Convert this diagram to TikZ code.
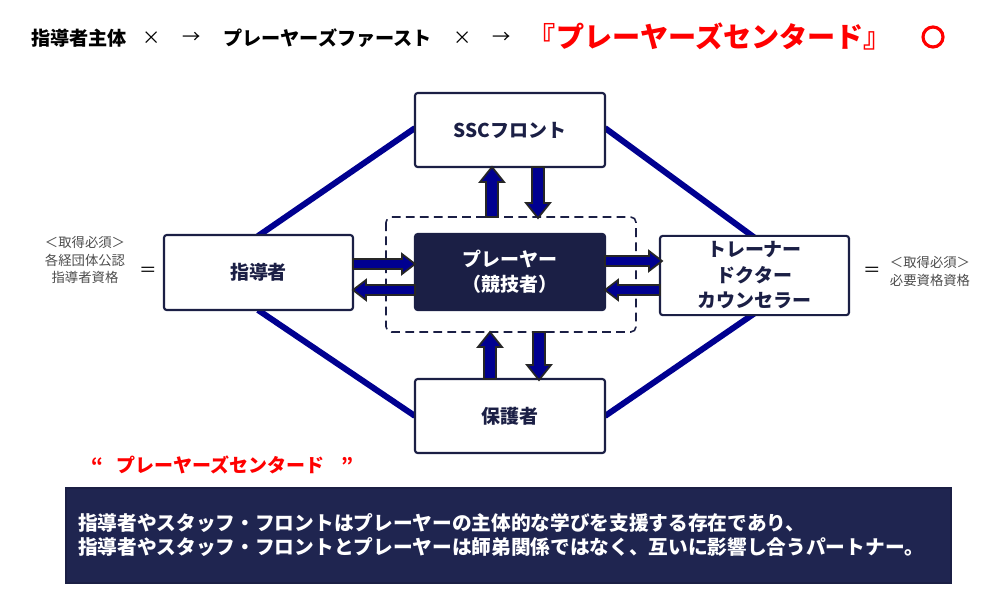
\documentclass[tikz,border=0pt]{standalone}
\usepackage{fontspec}
\setmainfont{Noto Sans CJK JP}
\usetikzlibrary{positioning}
\definecolor{navy}{HTML}{000090}
\definecolor{dark}{HTML}{1B1F45}
\definecolor{boxb}{HTML}{1F2550}
\definecolor{redt}{HTML}{FF0000}
\tikzset{
 box/.style={draw=dark,line width=1.2pt,rounded corners=1.5pt,fill=white,font=\fontsize{10.8}{14}\selectfont\bfseries,text=dark,align=center},
 link/.style={navy,line width=3.4pt},
 barrow/.style={fill=navy,draw=black!85,line width=1pt},
 side/.style={font=\fontsize{7.6}{10}\selectfont,text=black!70,align=center},
 ttl/.style={font=\fontsize{10.9}{12}\selectfont\bfseries,anchor=west}
}
\newcommand\varrow[4]{% x, ytail, yhead, dir(+1 down,-1 up)
 \fill[barrow] (#1-6,#2) -- (#1-6,#3-#4*15) -- (#1-12,#3-#4*15) -- (#1,#3) -- (#1+12,#3-#4*15) -- (#1+6,#3-#4*15) -- (#1+6,#2) -- cycle;}
\newcommand\harrow[4]{% y, xtail, xhead, dir(+1 right,-1 left)
 \fill[barrow] (#2,#1-5) -- (#3-#4*13,#1-5) -- (#3-#4*13,#1-10) -- (#3,#1) -- (#3-#4*13,#1+10) -- (#3-#4*13,#1+5) -- (#2,#1+5) -- cycle;}
\begin{document}
\begin{tikzpicture}[x=0.02cm,y=-0.02cm]
\useasboundingbox (0,0) rectangle (1000,600);
% title
\node[ttl] (t1) at (25,38) {指導者主体};
\node[font=\fontsize{10.4}{12}\selectfont] (t2) at (152,38) {×};
\node[font=\fontsize{10.4}{12}\selectfont] (t3) at (192,38) {→};
\node[ttl] (t4) at (217,38) {プレーヤーズファースト};
\node[font=\fontsize{10.4}{12}\selectfont] (t5) at (463,38) {×};
\node[font=\fontsize{10.4}{12}\selectfont] (t6) at (502,38) {→};
\node[font=\fontsize{16}{18}\selectfont\bfseries,text=redt] (t7) at (710,36) {『プレーヤーズセンタード』};
\draw[redt,line width=1.8pt] (933,37) circle (10);
% lines
\coordinate (l1a) at (415,128); \coordinate (l1b) at (258,236);
\coordinate (l2a) at (605,128); \coordinate (l2b) at (755,238);
\coordinate (l3a) at (258,310); \coordinate (l3b) at (415,416);
\coordinate (l4a) at (755,313); \coordinate (l4b) at (605,416);
\draw[link] (l1a)--(l1b); \draw[link] (l2a)--(l2b);
\draw[link] (l3a)--(l3b); \draw[link] (l4a)--(l4b);
% dashed
\draw[dark,line width=0.9pt,dashed,dash pattern=on 5pt off 3pt,rounded corners=3pt] (386,217) rectangle (636,332);
% boxes
\node[box,minimum width=3.8cm,minimum height=1.48cm] (ssc) at (510,130) {SSCフロント};
\node[box,minimum width=3.78cm,minimum height=1.5cm] (coach) at (258.5,272.5) {指導者};
\node[box,minimum width=3.8cm,minimum height=1.52cm,fill=dark,text=white,font=\fontsize{10.8}{14.5}\selectfont\bfseries] (pl) at (510,272) {プレーヤー\\（競技者）};
\node[box,minimum width=3.78cm,minimum height=1.5cm,font=\fontsize{10.8}{14.5}\selectfont\bfseries] (tr) at (754.5,275.5) {トレーナー\\ドクター\\カウンセラー};
\node[box,minimum width=3.8cm,minimum height=1.48cm] (par) at (510,416) {保護者};
% arrows
\varrow{492}{217}{167}{-1}
\varrow{538}{167}{218}{1}
\varrow{490}{379}{332}{-1}
\varrow{539}{332}{380}{1}
\harrow{264}{353}{415}{1}
\harrow{290}{415}{353}{-1}
\harrow{261}{605}{662}{1}
\harrow{290}{660}{605}{-1}
% side
\node[side] (ls) at (85,260) {＜取得必須＞\\各経団体公認\\指導者資格};
\node[font=\fontsize{10}{12}\selectfont] (le) at (148,272) {＝};
\node[font=\fontsize{10}{12}\selectfont] (re) at (872,272) {＝};
\node[side] (rs) at (930,271.5) {＜取得必須＞\\必要資格資格};
% quote
\node[font=\fontsize{10.8}{12}\selectfont\bfseries,text=redt,anchor=west] (q) at (85,465) {“\ \ \ プレーヤーズセンタード\ \ \ \ ”};
% bottom
\node[draw=dark,line width=1pt,fill=boxb,minimum width=17.7cm,minimum height=1.9cm,anchor=north west,inner sep=0] (bb) at (65,487) {};
\node[anchor=west,text=white,font=\fontsize{11.2}{14.2}\selectfont\bfseries,align=left] (bt) at (72,535) {指導者やスタッフ・フロントはプレーヤーの主体的な学びを支援する存在であり、\\指導者やスタッフ・フロントとプレーヤーは師弟関係ではなく、互いに影響し合うパートナー。};
\end{tikzpicture}
\end{document}
